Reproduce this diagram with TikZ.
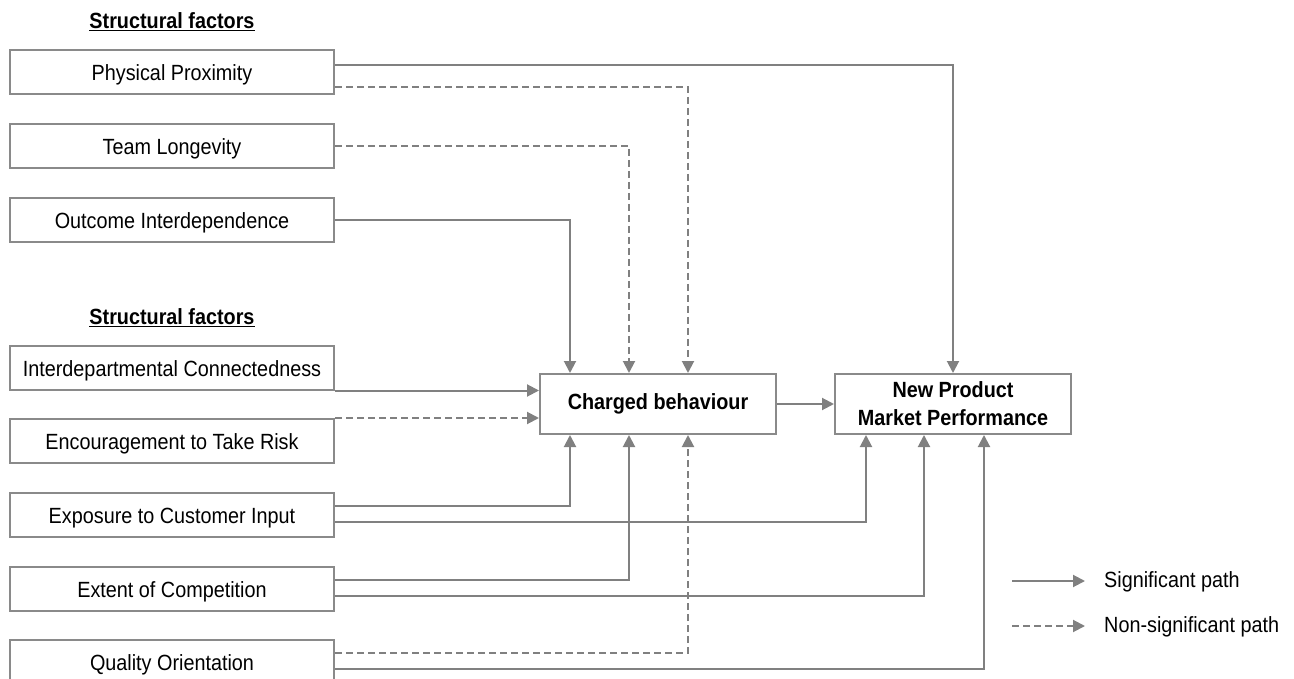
\documentclass[tikz,border=0pt]{standalone}
\usepackage{fontspec}
\setmainfont{Liberation Sans}[FakeStretch=0.9]
\usetikzlibrary{arrows.meta}
\definecolor{linegray}{RGB}{128,128,128}
\definecolor{boxgray}{RGB}{138,138,138}
\begin{document}
\begin{tikzpicture}[x=1pt,y=-1pt,
  every node/.style={font=\fontsize{22}{26}\selectfont, text=black},
  factor/.style={draw=boxgray, line width=2pt, minimum width=324pt, minimum height=44pt, inner sep=0pt, fill=white, text height=17pt, text depth=0pt},
  mainbox/.style={draw=boxgray, line width=2pt, minimum width=236pt, minimum height=60pt, inner sep=0pt, align=center, font=\fontsize{22}{28}\selectfont\bfseries},
  header/.style={font=\fontsize{22}{26}\selectfont\bfseries},
  sig/.style={draw=linegray, line width=2pt, -{Triangle[length=12pt,width=12pt]}},
  nonsig/.style={sig, dash pattern=on 7pt off 4pt},
]
\useasboundingbox (0,0) rectangle (1294,679);

% headers
\node[header] (h1) at (172,22) {\underline{Structural factors}};
\node[header] (h2) at (172,318) {\underline{Structural factors}};

% factor boxes
\node[factor] (PP) at (172,72) {Physical Proximity};
\node[factor] (TL) at (172,146) {Team Longevity};
\node[factor] (OI) at (172,220) {Outcome Interdependence};
\node[factor] (IC) at (172,367.5) {Interdepartmental Connectedness};
\node[factor] (ET) at (172,441) {Encouragement to Take Risk};
\node[factor] (EC) at (172,515) {Exposure to Customer Input};
\node[factor] (EoC) at (172,589) {Extent of Competition};
\node[factor] (QO) at (172,662) {Quality Orientation};

% main boxes
\node[mainbox] (CB) at (658,404) {Charged behaviour};
\node[mainbox] (NP) at (953,404) {New Product\\Market Performance};

% top connectors
\draw[sig] ([yshift=7pt]PP.east) -| (NP.north);
\draw[nonsig] ([yshift=-15pt]PP.east) -| ([xshift=30pt]CB.north);
\draw[nonsig] (TL.east) -| ([xshift=-29pt]CB.north);
\draw[sig] (OI.east) -| ([xshift=-88pt]CB.north);

% left connectors
\draw[sig] (IC.south east) -- (IC.south east -| CB.west);
\draw[nonsig] (ET.north east) -- (ET.north east -| CB.west);

% bottom connectors
\draw[sig] ([yshift=9pt]EC.east) -| ([xshift=-88pt]CB.south);
\draw[sig] ([yshift=-7pt]EC.east) -| ([xshift=-87pt]NP.south);
\draw[sig] ([yshift=9pt]EoC.east) -| ([xshift=-29pt]CB.south);
\draw[sig] ([yshift=-7pt]EoC.east) -| ([xshift=-29pt]NP.south);
\draw[nonsig] ([yshift=9pt]QO.east) -| ([xshift=30pt]CB.south);
\draw[sig] ([yshift=-7pt]QO.east) -| ([xshift=31pt]NP.south);

% main link
\draw[sig] (CB) -- (NP);

% legend
\coordinate (l1a) at (1012,581);
\coordinate (l1b) at (1085,581);
\coordinate (l2a) at (1012,626);
\coordinate (l2b) at (1085,626);
\draw[sig] (l1a) -- (l1b);
\draw[nonsig] (l2a) -- (l2b);
\node[anchor=west, inner sep=0pt] (lt1) at (1104,582) {Significant path};
\node[anchor=west, inner sep=0pt] (lt2) at (1104,627) {Non-significant path};
\end{tikzpicture}
\end{document}
